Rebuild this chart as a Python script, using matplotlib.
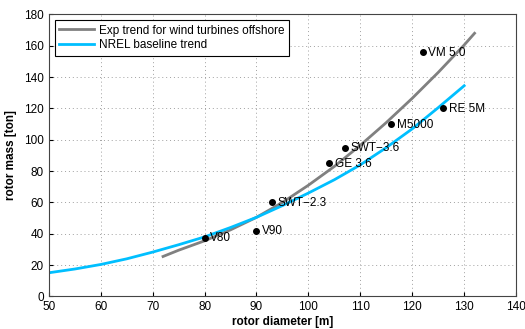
import matplotlib
matplotlib.use("Agg")
import matplotlib.pyplot as plt

plt.rcParams['font.family'] = ['Liberation Sans', 'DejaVu Sans']

# turbines (rotor diameter [m], rotor mass [ton])
turbines = ['V80', 'V90', 'SWT\u22122.3', 'GE 3.6', 'SWT\u22123.6', 'M5000', 'RE 5M', 'VM 5.0']
diam = [80, 90, 93, 104, 107, 116, 126, 122]
mass = [37.5, 42, 60, 85, 95, 110, 120, 156]

# exp trend
exp_d = [72, 75, 80, 85, 90, 95, 100, 105, 110, 115, 120, 125, 130, 132]
exp_m = [25.5, 29.5, 35.5, 42.5, 50.5, 60, 71, 83, 96.5, 111, 126.5, 143, 160.5, 168]

# NREL baseline
nrel_d = [50, 55, 60, 65, 70, 75, 80, 85, 90, 95, 100, 105, 110, 115, 120, 125, 130]
nrel_m = [15.1, 17.5, 20.4, 24, 28.3, 33, 38, 44, 50.5, 58, 66, 74.5, 84, 95, 107, 120.5, 134.5]

fig = plt.figure(figsize=(5.25, 3.29), dpi=100)
ax = fig.add_axes([0.093, 0.099, 0.890, 0.857])

ax.plot(exp_d, exp_m, color='#808080', lw=2, label='Exp trend for wind turbines offshore')
ax.plot(nrel_d, nrel_m, color='#00bfff', lw=2, label='NREL baseline trend')
ax.plot(diam, mass, 'o', color='black', ms=4)
for name, d, m in zip(turbines, diam, mass):
    ax.text(d + 1.1, m - 0.5, name, fontsize=8.5, va='center', ha='left')

ax.set_xlim(50, 140)
ax.set_ylim(0, 180)
ax.set_xticks(range(50, 141, 10))
ax.set_yticks(range(0, 181, 20))
ax.grid(True, linestyle=(0, (1, 3)), color='#a0a0a0', lw=0.7)
ax.tick_params(direction='in', labelsize=8.5, length=3)
for s in ax.spines.values():
    s.set_color('#444444')
    s.set_linewidth(0.8)

ax.set_xlabel('rotor diameter [m]', fontsize=8.5, fontweight='bold', labelpad=2)
ax.set_ylabel('rotor mass [ton]', fontsize=8.5, fontweight='bold', labelpad=5)

leg = ax.legend(loc='upper left', fontsize=8.5, fancybox=False, framealpha=1,
                edgecolor='black', borderaxespad=0.5, handlelength=3.0,
                borderpad=0.35, labelspacing=0.25, handletextpad=0.4)
leg.get_frame().set_linewidth(0.8)

fig.savefig('out.png', dpi=100)
